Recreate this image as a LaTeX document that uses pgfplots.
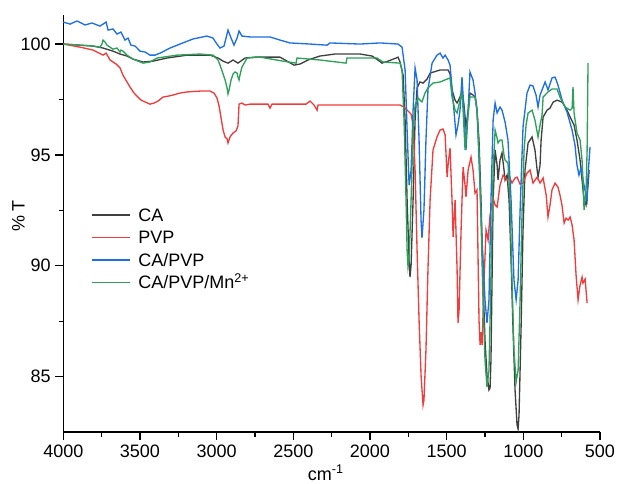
\documentclass[border=0pt]{standalone}
\usepackage{fontspec}
\setmainfont{Liberation Sans}
\usepackage{pgfplots}
\pgfplotsset{compat=1.18}
\definecolor{cCA}{RGB}{64,64,64}
\definecolor{cPVP}{RGB}{240,60,60}
\definecolor{cCAPVP}{RGB}{30,110,230}
\definecolor{cMn}{RGB}{45,160,90}
\newcommand{\lfont}{\fontsize{13.5}{16}\selectfont}
\begin{document}
\begin{tikzpicture}
\begin{axis}[
 name=ax,
 scale only axis,
 width=402.5pt, height=312.75pt,
 xmin=500, xmax=4000, ymin=82.505, ymax=101.31,
 x dir=reverse,
 axis x line=bottom, axis y line=left,
 axis line style={-, line width=0.9pt, black},
 xtick={500,1000,...,4000}, ytick={85,90,95,100},
 minor x tick num=1, minor y tick num=1,
 tick align=outside,
 major tick length=6pt, minor tick length=3.5pt,
 every tick/.style={black, line width=0.9pt},
 tick label style={font=\lfont},
 /pgf/number format/assume math mode=true,
 /pgf/number format/1000 sep={},
 label style={font=\lfont},
 xlabel={cm\textsuperscript{-1}},
 ylabel={\% T},
 xlabel style={at={(axis description cs:0.489,-0.116)}, anchor=base},
 ylabel style={at={(axis description cs:-0.0835,0.518)}, anchor=center},
 clip=false,
]
\addplot[cCA, line width=1pt] coordinates {
(4000,100.00)(3891,99.95)(3806,99.91)(3741,99.82)(3676,99.68)(3630,99.55)(3585,99.46)(3545,99.32)(3480,99.19)(3415,99.23)(3324,99.37)(3193,99.50)(3043,99.50)(2991,99.37)(2958,99.23)(2926,99.14)(2893,99.28)(2861,99.14)(2815,99.37)(2750,99.41)(2587,99.41)(2541,99.23)(2495,99.05)(2456,99.10)(2404,99.28)(2326,99.46)(2228,99.55)(2065,99.55)(1987,99.46)(1948,99.28)(1922,99.14)(1882,99.23)(1830,99.37)(1817,99.41)(1804,99.19)(1784,98.60)(1771,96.57)(1758,92.97)(1745,90.26)(1739,89.49)(1732,90.03)(1719,92.97)(1706,96.57)(1693,98.02)(1674,98.29)(1654,98.24)(1628,98.42)(1608,98.69)(1543,98.83)(1491,98.83)(1478,98.65)(1465,97.93)(1445,97.47)(1432,97.34)(1413,97.61)(1400,97.84)(1387,97.25)(1374,96.26)(1360,97.02)(1348,97.79)(1328,97.70)(1315,97.61)(1302,97.02)(1289,95.67)(1276,92.97)(1263,89.36)(1250,86.65)(1237,85.07)(1224,84.40)(1217,84.49)(1211,85.75)(1204,89.36)(1197,92.97)(1184,95.22)(1171,94.54)(1165,93.87)(1152,94.77)(1139,95.09)(1126,94.32)(1119,93.87)(1106,94.09)(1093,92.97)(1080,90.26)(1067,87.10)(1054,84.40)(1041,82.82)(1034,82.64)(1028,83.27)(1015,87.10)(1002,91.61)(989,94.32)(969,95.54)(943,95.81)(924,95.22)(910,94.32)(904,94.00)(891,94.54)(884,95.67)(871,96.71)(845,97.02)(826,97.11)(806,97.38)(780,97.47)(747,97.38)(721,97.11)(695,96.71)(669,96.35)(650,95.67)(630,94.77)(617,93.87)(604,92.97)(591,92.74)(578,93.64)(571,94.32)
};
\addplot[cPVP, line width=1pt] coordinates {
(4000,100.00)(3891,99.86)(3806,99.73)(3741,99.50)(3721,99.59)(3695,99.28)(3656,99.10)(3630,98.92)(3611,98.60)(3585,98.29)(3565,98.06)(3539,97.79)(3519,97.65)(3493,97.47)(3467,97.39)(3435,97.29)(3408,97.34)(3382,97.43)(3350,97.61)(3317,97.65)(3285,97.70)(3239,97.79)(3193,97.84)(3108,97.88)(3043,97.88)(3017,97.79)(2998,97.57)(2984,97.20)(2971,96.66)(2958,96.12)(2945,95.81)(2932,95.72)(2926,95.54)(2913,95.81)(2893,95.99)(2874,96.08)(2861,96.30)(2854,97.29)(2835,97.34)(2815,97.25)(2782,97.29)(2665,97.29)(2652,97.11)(2639,97.29)(2456,97.29)(2417,97.29)(2391,97.43)(2365,97.25)(2345,97.02)(2339,97.25)(2130,97.25)(1804,97.25)(1778,97.16)(1752,96.98)(1732,96.84)(1719,96.35)(1706,94.32)(1693,90.71)(1680,87.55)(1667,85.07)(1654,83.72)(1648,83.95)(1635,86.20)(1622,89.81)(1608,92.97)(1589,95.22)(1563,95.81)(1543,96.12)(1524,96.17)(1510,95.90)(1497,94.00)(1491,94.54)(1478,95.31)(1465,92.97)(1458,91.30)(1452,92.06)(1445,92.97)(1432,89.81)(1426,87.42)(1419,88.01)(1406,91.61)(1393,94.45)(1380,93.64)(1374,93.10)(1360,94.32)(1341,94.90)(1328,94.32)(1315,93.28)(1302,93.42)(1295,90.26)(1289,87.55)(1282,86.43)(1276,87.01)(1269,86.43)(1256,89.36)(1243,91.61)(1230,91.16)(1217,92.29)(1197,93.06)(1184,92.74)(1171,92.65)(1152,93.64)(1132,94.09)(1106,93.87)(1087,93.96)(1074,93.73)(1054,93.96)(1041,94.00)(1022,93.69)(1002,93.73)(976,94.18)(956,94.32)(937,93.73)(910,94.00)(891,93.73)(871,93.96)(851,93.19)(839,92.20)(826,92.74)(813,93.42)(793,93.73)(774,93.55)(761,93.19)(748,92.74)(734,91.93)(721,92.15)(708,92.06)(695,92.20)(682,91.84)(669,91.16)(656,89.58)(643,88.46)(630,89.13)(617,89.49)(611,89.22)(597,89.40)(584,88.32)
};
\addplot[cCAPVP, line width=1pt] coordinates {
(4000,100.99)(3956,100.90)(3911,101.04)(3858,100.86)(3813,100.95)(3761,100.81)(3721,100.99)(3708,100.63)(3676,100.68)(3650,100.45)(3624,100.54)(3598,100.18)(3578,100.27)(3559,99.95)(3532,99.91)(3500,99.68)(3467,99.64)(3435,99.50)(3402,99.50)(3369,99.59)(3304,99.82)(3239,100.00)(3154,100.23)(3063,100.36)(3024,100.27)(2998,100.00)(2978,99.82)(2952,99.91)(2926,100.63)(2906,100.27)(2887,99.95)(2867,100.27)(2854,100.59)(2835,100.36)(2782,100.32)(2652,100.32)(2587,100.18)(2522,100.05)(2391,100.00)(2280,99.95)(2261,100.05)(2065,100.00)(1935,100.05)(1817,100.00)(1791,99.86)(1771,98.83)(1758,96.12)(1745,93.64)(1732,94.32)(1719,97.02)(1706,98.92)(1693,98.38)(1680,95.67)(1667,92.06)(1661,91.25)(1648,92.52)(1635,95.67)(1622,97.93)(1595,99.14)(1563,99.50)(1543,99.59)(1524,99.37)(1510,99.50)(1491,99.28)(1478,99.05)(1458,97.47)(1439,95.90)(1426,96.35)(1413,97.02)(1400,98.51)(1387,97.02)(1374,95.22)(1360,97.02)(1348,98.74)(1328,98.38)(1315,97.79)(1302,97.02)(1289,94.77)(1269,91.16)(1250,88.46)(1237,87.42)(1224,88.46)(1211,92.97)(1197,96.57)(1184,97.34)(1171,96.89)(1152,97.16)(1139,97.02)(1119,96.48)(1100,95.67)(1080,92.97)(1061,89.36)(1047,88.46)(1034,89.36)(1021,92.52)(1002,96.26)(976,97.79)(956,98.15)(937,98.11)(917,97.70)(904,97.16)(891,97.70)(878,97.93)(858,98.29)(839,97.93)(813,98.47)(793,98.51)(774,98.15)(747,97.47)(715,96.93)(682,96.12)(663,95.44)(650,94.54)(637,94.09)(624,94.41)(611,93.87)(598,93.42)(584,92.97)(578,94.09)(565,95.36)
};
\addplot[cMn, line width=1pt] coordinates {
(4000,100.00)(3891,99.95)(3806,99.91)(3761,99.86)(3748,100.00)(3741,100.18)(3728,100.09)(3715,99.95)(3676,99.77)(3650,99.82)(3630,99.64)(3624,99.73)(3611,99.68)(3585,99.50)(3545,99.32)(3480,99.14)(3435,99.19)(3389,99.37)(3259,99.50)(3108,99.55)(3024,99.50)(2991,99.28)(2978,99.05)(2958,98.65)(2945,98.38)(2932,98.02)(2926,97.75)(2919,97.93)(2906,98.38)(2893,98.65)(2880,98.74)(2867,98.69)(2861,98.51)(2854,98.38)(2848,98.60)(2835,98.96)(2802,99.37)(2717,99.41)(2567,99.23)(2482,99.14)(2476,99.37)(2326,99.28)(2156,99.14)(2150,99.37)(1954,99.37)(1915,99.19)(1804,99.14)(1791,98.83)(1778,96.57)(1765,92.97)(1758,90.71)(1752,89.94)(1745,90.26)(1732,92.97)(1719,96.12)(1706,97.25)(1687,97.57)(1674,97.47)(1661,97.39)(1641,97.79)(1622,98.02)(1589,98.24)(1543,98.29)(1497,98.42)(1478,98.47)(1465,97.61)(1445,97.02)(1432,96.89)(1413,97.47)(1400,97.79)(1393,97.02)(1380,95.22)(1367,96.35)(1348,97.61)(1315,97.61)(1302,97.02)(1289,95.22)(1276,92.06)(1263,88.46)(1250,85.75)(1237,84.53)(1224,85.30)(1217,87.55)(1204,92.06)(1197,94.32)(1184,96.12)(1171,95.76)(1165,95.54)(1152,95.67)(1139,95.67)(1126,94.99)(1119,94.77)(1100,94.63)(1087,92.97)(1074,89.36)(1061,86.20)(1047,84.76)(1034,85.30)(1021,88.46)(1008,92.52)(995,95.22)(982,96.35)(969,96.89)(943,97.02)(924,96.57)(904,95.81)(891,96.35)(878,96.80)(871,97.61)(839,97.84)(813,97.97)(780,97.97)(761,97.61)(728,97.16)(695,97.02)(682,97.11)(676,98.06)(669,96.89)(650,95.99)(630,95.67)(617,94.77)(611,93.87)(604,92.52)(591,93.42)(584,95.22)(578,99.14)
};
% legend
\draw[cCA, line width=1pt] (axis description cs:0.0535,0.5204) -- ++(28.5pt,0pt);
\draw[cPVP, line width=1pt] (axis description cs:0.0535,0.4664) -- ++(28.5pt,0pt);
\draw[cCAPVP, line width=1pt] (axis description cs:0.0535,0.4125) -- ++(28.5pt,0pt);
\draw[cMn, line width=1pt] (axis description cs:0.0535,0.3585) -- ++(28.5pt,0pt);
\node[anchor=base west, inner sep=0pt, font=\lfont, text=black] at ([shift={(34.5pt,-4.85pt)}]axis description cs:0.0535,0.5204) {CA};
\node[anchor=base west, inner sep=0pt, font=\lfont, text=black] at ([shift={(34.5pt,-4.85pt)}]axis description cs:0.0535,0.4664) {PVP};
\node[anchor=base west, inner sep=0pt, font=\lfont, text=black] at ([shift={(34.5pt,-4.85pt)}]axis description cs:0.0535,0.4125) {CA/PVP};
\node[anchor=base west, inner sep=0pt, font=\lfont, text=black] at ([shift={(34.5pt,-4.85pt)}]axis description cs:0.0535,0.3585) {CA/PVP/Mn\textsuperscript{2+}};
\end{axis}
\pgfresetboundingbox
\path[use as bounding box] ([shift={(-47.5pt,-38.25pt)}]ax.south west) rectangle ([shift={(12.75pt,11.25pt)}]ax.north east);
\end{tikzpicture}
\end{document}
